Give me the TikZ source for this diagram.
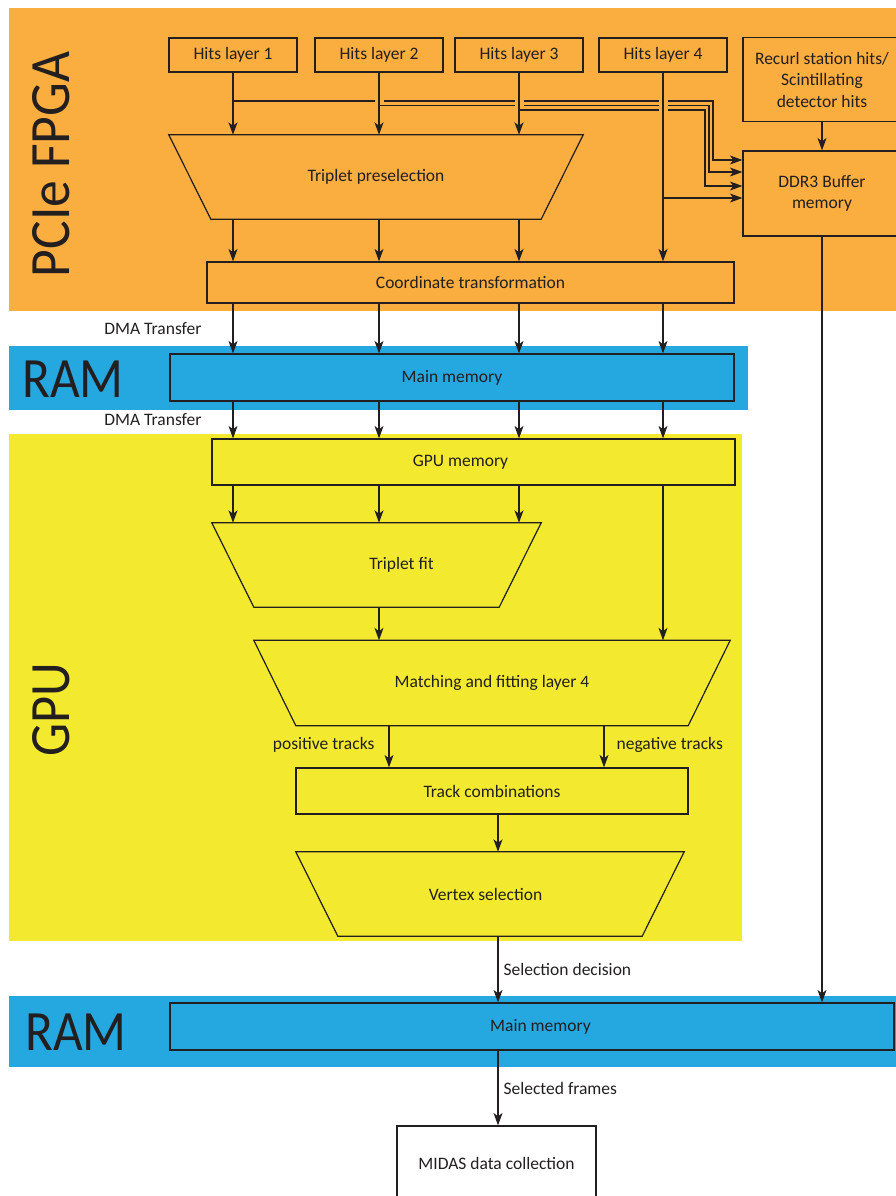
\documentclass[tikz,border=0pt]{standalone}
\usepackage{fontspec}
\setmainfont{Carlito}
\usepackage{graphicx}
\usetikzlibrary{arrows.meta,calc}
\definecolor{fpga}{HTML}{FBAE40}
\definecolor{ramb}{HTML}{25A8E0}
\definecolor{gpuy}{HTML}{F3EA30}
\definecolor{ink}{HTML}{231F20}
\begin{document}
\begin{tikzpicture}[x=1pt,y=-1pt,
  every node/.style={text=ink, font=\fontsize{17.5}{21.5}\selectfont, inner sep=0pt},
  box/.style={draw=ink, line width=1.2pt, rectangle, align=center},
  trapbox/.style={rectangle, align=center},
  ln/.style={draw=ink, line width=1.2pt},
  arr/.style={draw=ink, line width=1.2pt, -{Stealth[length=12.5pt,width=9pt,inset=3.5pt]}},
  big/.style={font=\fontsize{57}{60}\selectfont, anchor=base},
  hop/.style={fill=fpga}]
\useasboundingbox (0,0) rectangle (896,1196);
\clip (0,0) rectangle (896,1196);

% bands
\fill[fpga] (9,8) rectangle (896,311);
\fill[ramb] (9,346) rectangle (748,410);
\fill[gpuy] (9,434) rectangle (742,940.5);
\fill[ramb] (9,996) rectangle (896,1067);

% big labels
\node[big, rotate=90] (lfpga) at (69.3,164.4) {\scalebox{0.94}[1]{PCIe FPGA}};
\node[big] (lram1) at (73,397) {\scalebox{0.9}[1]{RAM}};
\node[big, rotate=90] (lgpu) at (69.3,710) {\scalebox{0.92}[1]{GPU}};
\node[big] (lram2) at (76,1050) {\scalebox{0.9}[1]{RAM}};

% nodes
\node[box, minimum width=128pt, minimum height=34pt] (h1) at (233,55) {Hits layer 1};
\node[box, minimum width=128pt, minimum height=34pt] (h2) at (379,55) {Hits layer 2};
\node[box, minimum width=128pt, minimum height=34pt] (h3) at (519,55) {Hits layer 3};
\node[box, minimum width=128pt, minimum height=34pt] (h4) at (663,55) {Hits layer 4};
\node[box, minimum width=158pt, minimum height=84pt] (rec) at (822,79.5) {Recurl station hits/\\Scintillating\\detector hits};
\node[box, minimum width=158pt, minimum height=85pt] (ddr) at (822,193.5) {DDR3 Buffer\\memory};

\node[trapbox, minimum width=414pt, minimum height=84pt] (tp) at (376,177) {Triplet preselection};
\draw[ln] (tp.north west) -- (tp.north east) -- ([xshift=-42pt]tp.south east) -- ([xshift=42pt]tp.south west) -- cycle;

\node[box, minimum width=527pt, minimum height=41pt] (ct) at (470.5,282.5) {Coordinate transformation};
\node[box, minimum width=564pt, minimum height=47pt] (mm1) at (452,377.5) {Main memory};
\node[box, minimum width=523pt, minimum height=46pt] (gm) at (473.5,462) {\hspace*{-26pt}GPU memory};

\node[trapbox, minimum width=329pt, minimum height=84pt] (tf) at (376.5,565) {\hspace*{50pt}Triplet fit};
\draw[ln] (tf.north west) -- (tf.north east) -- ([xshift=-42pt]tf.south east) -- ([xshift=42pt]tf.south west) -- cycle;

\node[trapbox, minimum width=476pt, minimum height=85pt] (mf) at (492,683) {Matching and fitting layer 4};
\draw[ln] (mf.north west) -- (mf.north east) -- ([xshift=-42pt]mf.south east) -- ([xshift=42pt]mf.south west) -- cycle;

\node[box, minimum width=392pt, minimum height=46pt] (tc) at (492,791) {Track combinations};

\node[trapbox, minimum width=388pt, minimum height=84pt] (vs) at (490,894) {\hspace*{-9pt}Vertex selection};
\draw[ln] (vs.north west) -- (vs.north east) -- ([xshift=-42pt]vs.south east) -- ([xshift=42pt]vs.south west) -- cycle;

\node[box, minimum width=724pt, minimum height=47pt] (mm2) at (532,1026.5) {\hspace*{17pt}Main memory};
\node[box, fill=white, minimum width=199pt, minimum height=74pt] (midas) at (496.5,1163) {MIDAS data collection};

% routes to DDR3 buffer
\draw[arr] (h1.south |- 0,101) -| (713,160) -- (ddr.west |- 0,160);
\draw[arr] (h2.south |- 0,105.5) -| (709,172) -- (ddr.west |- 0,172);
\draw[arr] (h3.south |- 0,110) -| (705,186) -- (ddr.west |- 0,186);
\draw[arr] (h4.south |- 0,198) -- (ddr.west |- 0,198);

% line hops
\fill[hop] (374.5,99.6) rectangle (383.5,102.4);
\fill[hop] (514.5,99.6) rectangle (523.5,102.4);
\fill[hop] (514.5,104.1) rectangle (523.5,106.9);
\fill[hop] (658.5,99.6) rectangle (667.5,111.4);

% verticals
\draw[arr] (h1.south) -- (h1.south |- tp.north);
\draw[arr] (h2.south) -- (h2.south |- tp.north);
\draw[arr] (h3.south) -- (h3.south |- tp.north);
\draw[arr] (h4.south) -- (h4.south |- ct.north);
\draw[arr] (rec.south) -- (ddr.north);
\draw[arr] (ddr.south) -- (ddr.south |- mm2.north);

\draw[arr] (h1.south |- tp.south) -- (h1.south |- ct.north);
\draw[arr] (h2.south |- tp.south) -- (h2.south |- ct.north);
\draw[arr] (h3.south |- tp.south) -- (h3.south |- ct.north);

\draw[arr] (h1.south |- ct.south) -- (h1.south |- mm1.north) node[midway, left=31pt] {DMA Transfer};
\draw[arr] (h2.south |- ct.south) -- (h2.south |- mm1.north);
\draw[arr] (h3.south |- ct.south) -- (h3.south |- mm1.north);
\draw[arr] (h4.south |- ct.south) -- (h4.south |- mm1.north);

\draw[arr] (h1.south |- mm1.south) -- (h1.south |- gm.north) node[midway, left=31pt] {DMA Transfer};
\draw[arr] (h2.south |- mm1.south) -- (h2.south |- gm.north);
\draw[arr] (h3.south |- mm1.south) -- (h3.south |- gm.north);
\draw[arr] (h4.south |- mm1.south) -- (h4.south |- gm.north);

\draw[arr] (h1.south |- gm.south) -- (h1.south |- tf.north);
\draw[arr] (h2.south |- gm.south) -- (h2.south |- tf.north);
\draw[arr] (h3.south |- gm.south) -- (h3.south |- tf.north);
\draw[arr] (h4.south |- gm.south) -- (h4.south |- mf.north);
\draw[arr] (h2.south |- tf.south) -- (h2.south |- mf.north);

\draw[arr] (389,0 |- mf.south) -- (389,0 |- tc.north) node[pos=0.45, left=14pt] {positive tracks};
\draw[arr] (604,0 |- mf.south) -- (604,0 |- tc.north) node[pos=0.45, right=12pt] {negative tracks};
\draw[arr] (498,0 |- tc.south) -- (498,0 |- vs.north);
\draw[arr] (498,0 |- vs.south) -- (498,0 |- mm2.north) node[midway, right=5pt] {Selection decision};
\draw[arr] (498,0 |- mm2.south) -- (498,0 |- midas.north) node[midway, right=5pt] {Selected frames};
\end{tikzpicture}
\end{document}
